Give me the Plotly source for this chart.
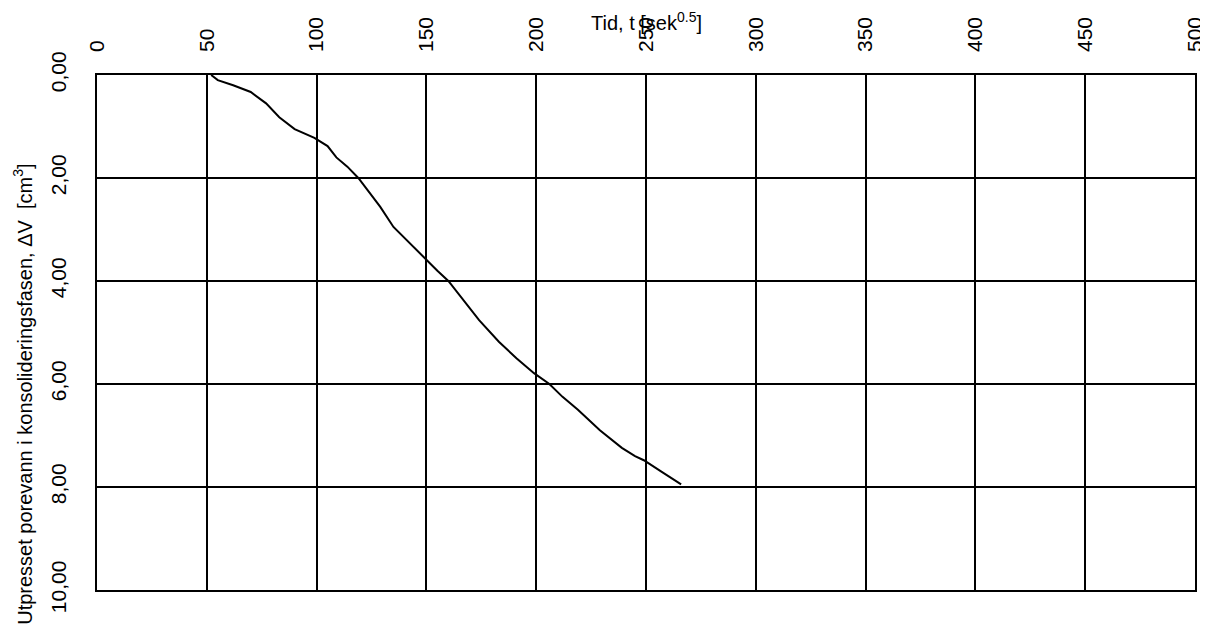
import plotly.graph_objects as go

# Data
tid = [52, 55, 62, 70, 77, 83, 90, 99, 105, 109, 114, 119, 124, 129, 135, 142, 149, 155, 160,
       167, 174, 183, 191, 199, 206, 212, 219, 229, 239, 245, 249, 257, 266]
dv = [0.00, 0.10, 0.20, 0.33, 0.55, 0.82, 1.05, 1.22, 1.38, 1.60, 1.78, 2.00, 2.28, 2.56,
      2.95, 3.25, 3.55, 3.80, 4.00, 4.38, 4.76, 5.18, 5.50, 5.79, 6.00, 6.25, 6.50, 6.90,
      7.24, 7.40, 7.48, 7.70, 7.95]

x_ticks = [0, 50, 100, 150, 200, 250, 300, 350, 400, 450, 500]
y_ticks = [0, 2, 4, 6, 8, 10]

font = "Liberation Sans, Arial, sans-serif"

fig = go.Figure()
fig.add_trace(go.Scatter(x=tid, y=dv, mode="lines",
                         line=dict(color="black", width=2), showlegend=False))

# page body has an 8px margin, so the figure is sized 1200x630
fig.update_layout(
    width=1200, height=630,
    margin=dict(l=89, r=13, t=67, b=48),
    paper_bgcolor="white", plot_bgcolor="white",
    separators=",.",
    font=dict(family=font, color="black", size=21),
    xaxis=dict(side="top", range=[0, 500], tickvals=x_ticks, tickangle=-90,
               showgrid=True, gridcolor="black", gridwidth=1.5,
               showline=True, linecolor="black", linewidth=1.5, mirror=True,
               zeroline=False, ticks="", ticklabelstandoff=17, automargin=False,
               tickfont=dict(size=21, family=font, color="black")),
    yaxis=dict(range=[10, 0], tickvals=y_ticks, tickformat=".2f", tickangle=-90,
               showgrid=True, gridcolor="black", gridwidth=1.5,
               showline=True, linecolor="black", linewidth=1.5, mirror=True,
               zeroline=False, ticks="", ticklabelstandoff=21, automargin=False,
               tickfont=dict(size=21, family=font, color="black")),
    annotations=[
        dict(text="Tid, t [sek<sup>0.5</sup>]", xref="paper", yref="paper",
             x=0.5, y=1, yshift=54, showarrow=False, xanchor="center", yanchor="middle",
             font=dict(size=20, family=font, color="black")),
        dict(text="Utpresset porevann i konsolideringsfasen, \u0394V  [cm<sup>3</sup>]",
             xref="paper", yref="paper", x=0, xshift=-74, y=0.379, textangle=-90,
             showarrow=False, xanchor="center", yanchor="middle",
             font=dict(size=20, family=font, color="black")),
    ],
)

fig.write_html("out.html")
